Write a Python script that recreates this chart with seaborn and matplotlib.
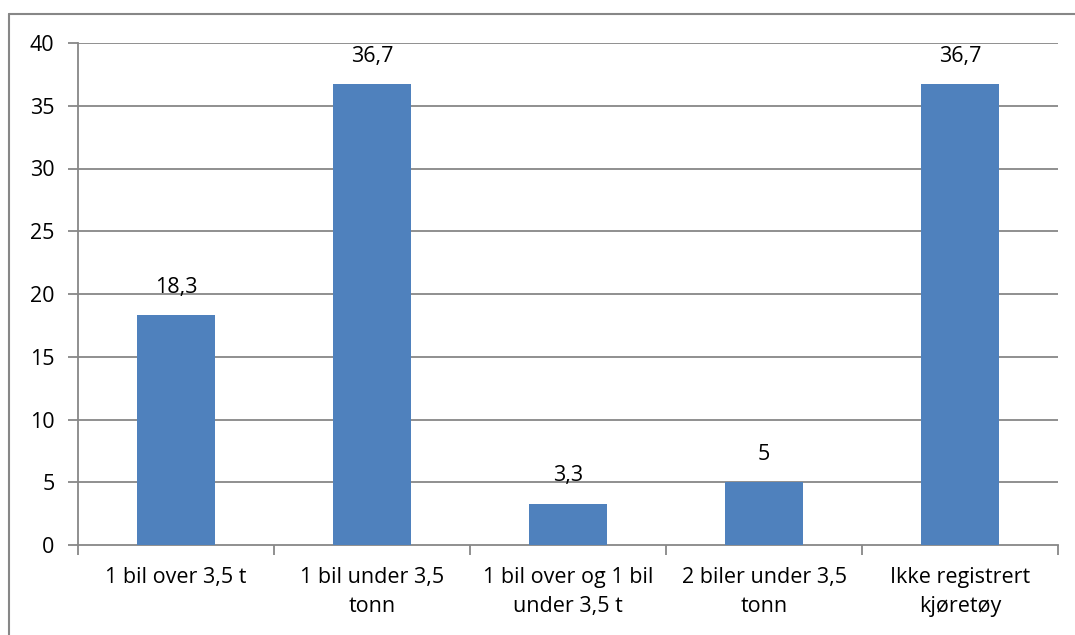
import numpy as np
import pandas as pd
import seaborn as sns
import matplotlib.pyplot as plt
from matplotlib.lines import Line2D

categories = ["1 bil over 3,5 t", "1 bil under 3,5\ntonn", "1 bil over og 1 bil\nunder 3,5 t",
              "2 biler under 3,5\ntonn", "Ikke registrert\nkjøretøy"]
values = [18.3, 36.7, 3.3, 5, 36.7]
value_labels = ["18,3", "36,7", "3,3", "5", "36,7"]
y_ticks = [0, 5, 10, 15, 20, 25, 30, 35, 40]

sns.set_style("white")
plt.rcParams['font.family'] = ['Open Sans', 'DejaVu Sans']
plt.rcParams['text.color'] = 'black'
plt.rcParams['xtick.color'] = 'black'
plt.rcParams['ytick.color'] = 'black'

grid_color = "#878787"
bar_color = "#4F81BD"
fs = 15.5

df = pd.DataFrame({"cat": categories, "val": values})

fig = plt.figure(figsize=(10.75, 6.35), dpi=100)
ax = fig.add_axes([78 / 1075, 1 - 545 / 635, (1058 - 78) / 1075, (545 - 43) / 635])

sns.barplot(data=df, x="cat", y="val", color=bar_color, width=0.4, saturation=1,
            linewidth=0, ax=ax, zorder=3)

ax.set_ylim(0, 40)
ax.set_xlim(-0.5, len(categories) - 0.5)
ax.set_yticks(y_ticks)
ax.set_yticklabels([str(t) for t in y_ticks], fontsize=fs)
ax.set_xlabel("")
ax.set_ylabel("")

# horizontal gridlines
for t in y_ticks[1:]:
    ax.axhline(t, color=grid_color, lw=1.3, zorder=1)

for s in ["top", "right"]:
    ax.spines[s].set_visible(False)
for s in ["left", "bottom"]:
    ax.spines[s].set_color(grid_color)
    ax.spines[s].set_linewidth(1.3)

ax.tick_params(axis="y", which="major", left=True, length=7, width=1.3, color=grid_color,
               pad=10, labelcolor="black")
ax.set_xticks(range(len(categories)))
ax.set_xticklabels(categories, fontsize=fs, linespacing=1.5)
ax.tick_params(axis="x", which="major", bottom=False, length=0, pad=16, labelcolor="black")
ax.set_xticks(np.arange(-0.5, len(categories)), minor=True)
ax.tick_params(axis="x", which="minor", bottom=True, length=7, width=1.3, color=grid_color)

for i, (v, lab) in enumerate(zip(values, value_labels)):
    ax.annotate(lab, (i, v), xytext=(0, 20), textcoords="offset points",
                ha="center", va="center", fontsize=fs, color="black", zorder=4)

# outer chart border (top and left visible)
fig.add_artist(Line2D([9 / 1075, 9 / 1075], [0, 1 - 14 / 635], transform=fig.transFigure,
                      color=grid_color, lw=1.5))
fig.add_artist(Line2D([9 / 1075, 1], [1 - 14 / 635, 1 - 14 / 635], transform=fig.transFigure,
                      color=grid_color, lw=1.5))

fig.savefig("out.png", dpi=100, facecolor="white")
